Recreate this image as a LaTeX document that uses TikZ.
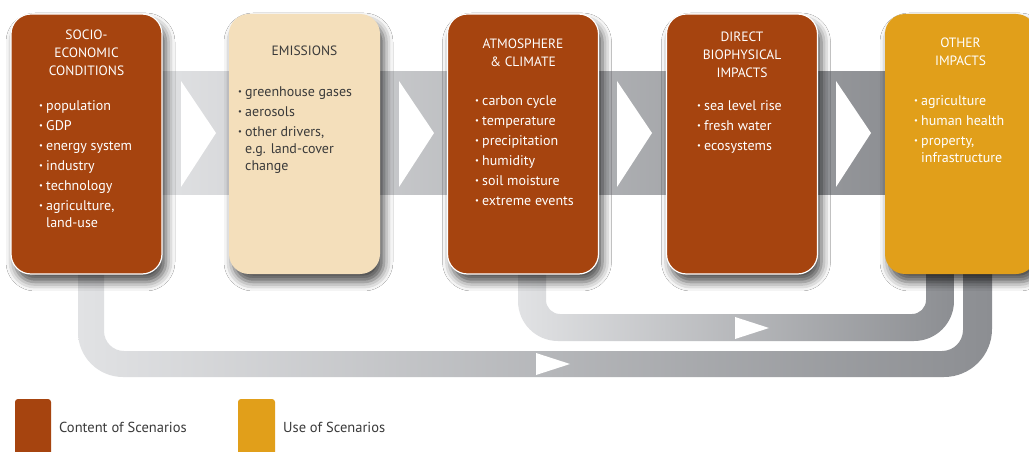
\documentclass[tikz,border=0pt]{standalone}
\usepackage{fontspec}
\setmainfont{PT Sans}
\usetikzlibrary{shadows.blur}
\definecolor{cbrown}{HTML}{A6440F}
\definecolor{ctan}{HTML}{F4DFBB}
\definecolor{cgold}{HTML}{E19F1A}
\definecolor{ctext}{HTML}{3A3A3A}
\definecolor{glight}{HTML}{E1E2E4}
\definecolor{gdark}{HTML}{8C8E92}
\newcommand{\mybul}{\makebox[7pt][l]{\raisebox{0.22ex}{\fontsize{8.5}{8.5}\selectfont •}}}
\newcommand{\myind}{\hspace*{7pt}}
\begin{document}
\begin{tikzpicture}[x=1pt,y=1pt,
  box/.style={rectangle, rounded corners=20pt, minimum width=151pt, minimum height=260pt, inner sep=0pt,
    blur shadow={shadow xshift=4pt, shadow yshift=-8pt, shadow blur radius=9pt, shadow opacity=70}},
  brownbox/.style={box, fill=cbrown, draw=white, line width=1.2pt},
  tanbox/.style={box, fill=ctan},
  goldbox/.style={box, fill=cgold},
  boxtitle/.style={anchor=north, align=center, inner sep=0pt, font=\fontsize{13.5}{18}\selectfont},
  items/.style={anchor=north west, align=left, inner sep=0pt, font=\fontsize{14}{17}\selectfont},
  chev/.style={fill=white},
  legendtext/.style={anchor=west, text=ctext, inner sep=0pt, font=\fontsize{14.5}{16}\selectfont}]
\useasboundingbox (0,0) rectangle (1029,451);
\fill[white] (0,0) rectangle (1029,451);
% main band
\shade[left color=glight, right color=gdark] (150,257) rectangle (900,379);
% outer loop
\shade[left color=glight, right color=gdark] (78,200) -- (78,119) arc[start angle=180,end angle=270,radius=45]
  -- (944,74) arc[start angle=270,end angle=360,radius=48] -- (992,200) -- (963,200)
  -- (963,121) arc[start angle=0,end angle=-90,radius=21] -- (124,100) arc[start angle=270,end angle=180,radius=20]
  -- (104,200) -- cycle;
% inner loop
\shade[left color=glight, right color=gdark] (518,200) -- (518,150) arc[start angle=180,end angle=270,radius=40]
  -- (914,110) arc[start angle=270,end angle=360,radius=40] -- (954,200) -- (926,200)
  -- (926,151) arc[start angle=0,end angle=-90,radius=14] -- (560,137) arc[start angle=270,end angle=180,radius=14]
  -- (546,200) -- cycle;
% loop arrows
\fill[chev] (735,134) -- (769,123) -- (735,112) -- cycle;
\fill[chev] (536,98) -- (570,87) -- (536,76) -- cycle;
% chevrons
\foreach \cx in {181,399,617,836}{
  \fill[chev] (\cx,370) -- (\cx+35,318) -- (\cx,264) -- cycle;
}
% boxes
\node[brownbox] (socio) at (86.5,307) {};
\node[tanbox] (emis) at (304.5,307) {};
\node[brownbox] (atmo) at (523,307) {};
\node[brownbox] (direct) at (742,307) {};
\node[goldbox] (other) at (960.5,307) {};
% titles
\node[boxtitle, text=white] (socio-t) at (86.5,421) {SOCIO-\\ECONOMIC\\CONDITIONS};
\node[boxtitle, text=ctext] (emis-t) at (304.5,405) {EMISSIONS};
\node[boxtitle, text=white] (atmo-t) at (523,412) {ATMOSPHERE\\\&{} CLIMATE};
\node[boxtitle, text=white] (direct-t) at (742,419) {DIRECT\\BIOPHYSICAL\\IMPACTS};
\node[boxtitle, text=white] (other-t) at (960.5,413) {OTHER\\IMPACTS};
% item lists
\node[items, text=white] (socio-l) at (39,351) {\mybul population\\[3pt]\mybul GDP\\[3pt]\mybul energy system\\[3pt]\mybul industry\\[3pt]\mybul technology\\[3pt]\mybul agriculture,\\\myind land-use};
\node[items, text=ctext] (emis-l) at (238,365) {\mybul greenhouse gases\\[3pt]\mybul aerosols\\[3pt]\mybul other drivers,\\\myind e.g. land-cover\\\myind change};
\node[items, text=white] (atmo-l) at (475,356) {\mybul carbon cycle\\[3pt]\mybul temperature\\[3pt]\mybul precipitation\\[3pt]\mybul humidity\\[3pt]\mybul soil moisture\\[3pt]\mybul extreme events};
\node[items, text=white] (direct-l) at (697,351) {\mybul sea level rise\\[3pt]\mybul fresh water\\[3pt]\mybul ecosystems};
\node[items, text=white] (other-l) at (914,356) {\mybul agriculture\\[3pt]\mybul human health\\[3pt]\mybul property,\\\myind infrastructure};
% legend
\fill[cbrown, rounded corners=3pt] (15,-5) rectangle (51,52);
\node[legendtext] (leg1) at (59,24) {Content of Scenarios};
\fill[cgold, rounded corners=3pt] (238,-5) rectangle (275,52);
\node[legendtext] (leg2) at (283,24) {Use of Scenarios};
\end{tikzpicture}
\end{document}
